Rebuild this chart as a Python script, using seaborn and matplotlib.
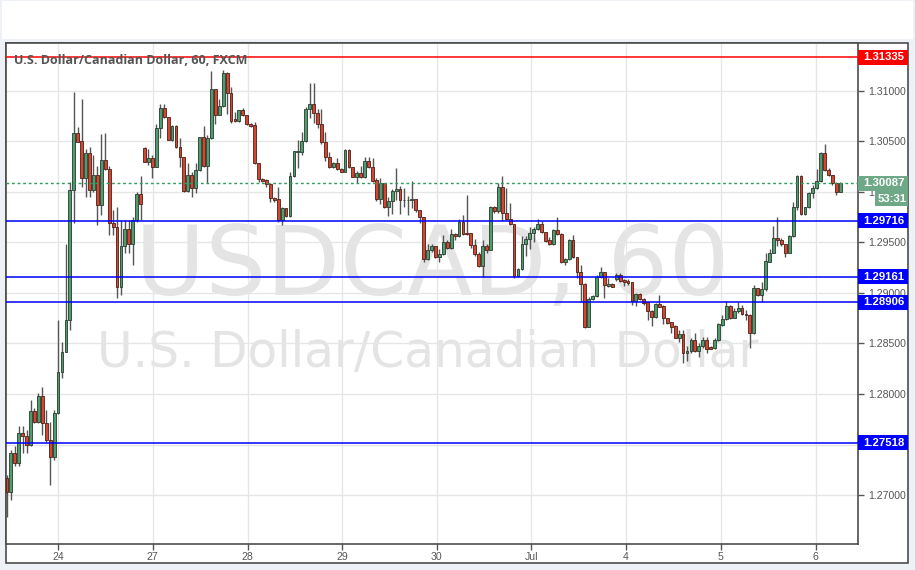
import numpy as np
import pandas as pd
import seaborn as sns
import matplotlib.pyplot as plt
import matplotlib.transforms as mtransforms
from matplotlib.patches import Rectangle

# hourly USD/CAD candles (FXCM, 60 min)
opens = [
    1.2717, 1.2703, 1.2742, 1.2732, 1.2761, 1.2758, 1.2750, 1.2783, 1.2772, 1.2798, 1.2771, 1.2754, 1.2738, 1.2781, 1.2822, 1.2842, 1.2873, 1.3002, 1.3058, 1.3050, 1.3014, 1.3039, 1.3002, 1.3017, 1.2987, 1.3032,
    1.3023, 1.2969, 1.2965, 1.2906, 1.2947, 1.2963, 1.2949, 1.2972, 1.2998, 1.3044, 1.3030, 1.3034, 1.3025, 1.3063, 1.3083, 1.3074, 1.3051, 1.3065, 1.3045, 1.3035, 1.3001, 1.3017, 1.3004, 1.3022, 1.3054, 1.3026,
    1.3053, 1.3102, 1.3076, 1.3085, 1.3118, 1.3098, 1.3072, 1.3070, 1.3081, 1.3076, 1.3067, 1.3066, 1.3029, 1.3013, 1.3012, 1.3008, 1.2994, 1.2993, 1.2972, 1.2984, 1.2976, 1.3016, 1.3040, 1.3040, 1.3050, 1.3082,
    1.3087, 1.3078, 1.3067, 1.3049, 1.3035, 1.3025, 1.3029, 1.3023, 1.3020, 1.3042, 1.3025, 1.3015, 1.3019, 1.3015, 1.3031, 1.3025, 1.3012, 1.2993, 1.3009, 1.2985, 1.2991, 1.3001, 1.3003, 1.2992, 1.2992, 1.2992,
    1.2993, 1.2982, 1.2975, 1.2934, 1.2943, 1.2947, 1.2936, 1.2939, 1.2950, 1.2945, 1.2958, 1.2956, 1.2970, 1.2959, 1.2959, 1.2948, 1.2939, 1.2927, 1.2947, 1.2943, 1.2985, 1.2981, 1.3005, 1.2979, 1.2973, 1.2968,
    1.2917, 1.2924, 1.2949, 1.2953, 1.2959, 1.2963, 1.2968, 1.2960, 1.2952, 1.2949, 1.2962, 1.2958, 1.2931, 1.2934, 1.2952, 1.2936, 1.2921, 1.2909, 1.2866, 1.2894, 1.2897, 1.2916, 1.2921, 1.2907, 1.2909, 1.2914,
    1.2918, 1.2913, 1.2912, 1.2911, 1.2892, 1.2899, 1.2894, 1.2891, 1.2882, 1.2876, 1.2889, 1.2887, 1.2875, 1.2871, 1.2867, 1.2855, 1.2859, 1.2841, 1.2843, 1.2853, 1.2843, 1.2848, 1.2853, 1.2847, 1.2846, 1.2853,
    1.2868, 1.2874, 1.2887, 1.2875, 1.2882, 1.2885, 1.2879, 1.2878, 1.2860, 1.2905, 1.2898, 1.2904, 1.2931, 1.2940, 1.2954, 1.2952, 1.2949, 1.2940, 1.2956, 1.2985, 1.3016, 1.2978, 1.2985, 1.2999, 1.3004, 1.3011,
    1.3039, 1.3022, 1.3017, 1.3009, 1.3000,
]
highs = [
    1.2720, 1.2745, 1.2749, 1.2768, 1.2768, 1.2764, 1.2794, 1.2786, 1.2801, 1.2807, 1.2784, 1.2772, 1.2784, 1.2873, 1.2851, 1.2949, 1.3010, 1.3099, 1.3064, 1.3092, 1.3043, 1.3045, 1.3037, 1.3026, 1.3057, 1.3058,
    1.3026, 1.2982, 1.2985, 1.2972, 1.2972, 1.2972, 1.2975, 1.3000, 1.3016, 1.3045, 1.3043, 1.3037, 1.3067, 1.3087, 1.3087, 1.3074, 1.3066, 1.3066, 1.3053, 1.3035, 1.3029, 1.3020, 1.3029, 1.3054, 1.3065, 1.3056,
    1.3120, 1.3102, 1.3092, 1.3121, 1.3119, 1.3104, 1.3079, 1.3081, 1.3083, 1.3076, 1.3068, 1.3069, 1.3029, 1.3014, 1.3013, 1.3009, 1.2995, 1.3005, 1.2985, 1.2984, 1.3020, 1.3041, 1.3051, 1.3059, 1.3084, 1.3108,
    1.3108, 1.3082, 1.3082, 1.3059, 1.3040, 1.3030, 1.3034, 1.3024, 1.3043, 1.3043, 1.3025, 1.3021, 1.3026, 1.3035, 1.3035, 1.3034, 1.3014, 1.3014, 1.3009, 1.2995, 1.3003, 1.3024, 1.3006, 1.3004, 1.2996, 1.3011,
    1.2993, 1.2982, 1.2975, 1.2949, 1.2949, 1.2947, 1.2944, 1.2957, 1.2952, 1.2963, 1.2959, 1.2973, 1.2977, 1.2997, 1.2959, 1.2953, 1.2941, 1.2952, 1.2949, 1.2986, 1.2986, 1.3009, 1.3016, 1.3004, 1.2989, 1.2968,
    1.2925, 1.2956, 1.2956, 1.2965, 1.2965, 1.2973, 1.2971, 1.2960, 1.2955, 1.2963, 1.2975, 1.2959, 1.2935, 1.2953, 1.2957, 1.2936, 1.2928, 1.2910, 1.2896, 1.2898, 1.2918, 1.2926, 1.2921, 1.2915, 1.2910, 1.2920,
    1.2920, 1.2914, 1.2914, 1.2911, 1.2900, 1.2900, 1.2895, 1.2891, 1.2883, 1.2890, 1.2898, 1.2888, 1.2875, 1.2871, 1.2868, 1.2863, 1.2863, 1.2848, 1.2855, 1.2860, 1.2850, 1.2856, 1.2856, 1.2848, 1.2855, 1.2870,
    1.2878, 1.2892, 1.2888, 1.2885, 1.2891, 1.2888, 1.2883, 1.2879, 1.2908, 1.2905, 1.2911, 1.2940, 1.2944, 1.2966, 1.2975, 1.2954, 1.2949, 1.2957, 1.2990, 1.3017, 1.3017, 1.2985, 1.3000, 1.3007, 1.3023, 1.3040,
    1.3048, 1.3024, 1.3017, 1.3010, 1.3010,
]
lows = [
    1.2678, 1.2695, 1.2729, 1.2729, 1.2742, 1.2742, 1.2749, 1.2771, 1.2771, 1.2759, 1.2752, 1.2710, 1.2735, 1.2780, 1.2816, 1.2842, 1.2863, 1.2969, 1.3049, 1.3005, 1.2995, 1.2995, 1.3000, 1.2967, 1.2977, 1.3022,
    1.2957, 1.2957, 1.2895, 1.2898, 1.2940, 1.2940, 1.2928, 1.2970, 1.2972, 1.3030, 1.3027, 1.3014, 1.3025, 1.3053, 1.3073, 1.3051, 1.3050, 1.3044, 1.3025, 1.3000, 1.3000, 1.2995, 1.2999, 1.3021, 1.3025, 1.3009,
    1.3052, 1.3067, 1.3076, 1.3084, 1.3077, 1.3068, 1.3069, 1.3069, 1.3075, 1.3066, 1.3064, 1.3028, 1.3010, 1.3010, 1.3005, 1.2990, 1.2990, 1.2970, 1.2967, 1.2975, 1.2975, 1.3015, 1.3024, 1.3037, 1.3049, 1.3073,
    1.3068, 1.3063, 1.3048, 1.3031, 1.3024, 1.3024, 1.3022, 1.3020, 1.3020, 1.3024, 1.3015, 1.3009, 1.3014, 1.3014, 1.3024, 1.3010, 1.2991, 1.2988, 1.2984, 1.2976, 1.2978, 1.2992, 1.2978, 1.2985, 1.2977, 1.2984,
    1.2980, 1.2969, 1.2931, 1.2933, 1.2941, 1.2935, 1.2931, 1.2938, 1.2944, 1.2944, 1.2952, 1.2955, 1.2957, 1.2957, 1.2945, 1.2937, 1.2926, 1.2916, 1.2940, 1.2943, 1.2979, 1.2979, 1.2971, 1.2972, 1.2967, 1.2915,
    1.2916, 1.2923, 1.2937, 1.2944, 1.2950, 1.2962, 1.2959, 1.2950, 1.2948, 1.2948, 1.2957, 1.2930, 1.2928, 1.2933, 1.2935, 1.2915, 1.2891, 1.2865, 1.2866, 1.2893, 1.2896, 1.2915, 1.2895, 1.2906, 1.2906, 1.2912,
    1.2911, 1.2907, 1.2908, 1.2888, 1.2887, 1.2893, 1.2888, 1.2873, 1.2867, 1.2875, 1.2886, 1.2869, 1.2869, 1.2860, 1.2855, 1.2851, 1.2831, 1.2833, 1.2841, 1.2842, 1.2837, 1.2846, 1.2841, 1.2845, 1.2845, 1.2852,
    1.2867, 1.2873, 1.2874, 1.2875, 1.2880, 1.2878, 1.2873, 1.2846, 1.2859, 1.2897, 1.2891, 1.2902, 1.2931, 1.2940, 1.2947, 1.2947, 1.2936, 1.2940, 1.2955, 1.2982, 1.2977, 1.2977, 1.2984, 1.2994, 1.3003, 1.3010,
    1.3021, 1.3016, 1.3007, 1.2997, 1.3000,
]
closes = [
    1.2703, 1.2742, 1.2732, 1.2761, 1.2758, 1.2750, 1.2783, 1.2772, 1.2798, 1.2771, 1.2754, 1.2738, 1.2781, 1.2822, 1.2842, 1.2873, 1.3002, 1.3058, 1.3049, 1.3014, 1.3039, 1.3002, 1.3017, 1.2987, 1.3032, 1.3023,
    1.2969, 1.2965, 1.2906, 1.2947, 1.2963, 1.2949, 1.2972, 1.2998, 1.2988, 1.3030, 1.3034, 1.3025, 1.3063, 1.3083, 1.3074, 1.3051, 1.3065, 1.3045, 1.3035, 1.3001, 1.3017, 1.3004, 1.3022, 1.3054, 1.3026, 1.3053,
    1.3102, 1.3076, 1.3085, 1.3118, 1.3098, 1.3070, 1.3070, 1.3081, 1.3076, 1.3067, 1.3065, 1.3029, 1.3013, 1.3011, 1.3008, 1.2994, 1.2992, 1.2972, 1.2984, 1.2976, 1.3016, 1.3041, 1.3041, 1.3050, 1.3082, 1.3087,
    1.3078, 1.3067, 1.3049, 1.3035, 1.3025, 1.3029, 1.3023, 1.3020, 1.3042, 1.3025, 1.3015, 1.3019, 1.3015, 1.3031, 1.3025, 1.3011, 1.2993, 1.3009, 1.2985, 1.2991, 1.3001, 1.3003, 1.2992, 1.2992, 1.2992, 1.2993,
    1.2982, 1.2975, 1.2934, 1.2943, 1.2947, 1.2936, 1.2939, 1.2950, 1.2945, 1.2958, 1.2956, 1.2970, 1.2958, 1.2958, 1.2948, 1.2939, 1.2927, 1.2947, 1.2943, 1.2985, 1.2981, 1.3005, 1.2979, 1.2973, 1.2968, 1.2917,
    1.2924, 1.2949, 1.2953, 1.2959, 1.2963, 1.2968, 1.2960, 1.2951, 1.2949, 1.2962, 1.2958, 1.2931, 1.2934, 1.2952, 1.2936, 1.2921, 1.2909, 1.2866, 1.2894, 1.2897, 1.2916, 1.2921, 1.2908, 1.2909, 1.2906, 1.2918,
    1.2912, 1.2911, 1.2910, 1.2892, 1.2899, 1.2894, 1.2890, 1.2882, 1.2876, 1.2889, 1.2886, 1.2875, 1.2870, 1.2866, 1.2855, 1.2859, 1.2841, 1.2843, 1.2853, 1.2843, 1.2848, 1.2853, 1.2845, 1.2845, 1.2853, 1.2869,
    1.2874, 1.2887, 1.2875, 1.2882, 1.2885, 1.2879, 1.2878, 1.2860, 1.2905, 1.2898, 1.2904, 1.2932, 1.2940, 1.2954, 1.2952, 1.2949, 1.2940, 1.2956, 1.2985, 1.3016, 1.2978, 1.2985, 1.2999, 1.3004, 1.3011, 1.3039,
    1.3022, 1.3017, 1.3009, 1.3000, 1.3009,
]

day_ticks = [13.0, 37.1, 61.2, 85.2, 109.3, 133.4, 157.5, 181.6, 205.7]
day_labels = ["24", "27", "28", "29", "30", "Jul", "4", "5", "6"]
price_ticks = [1.270, 1.275, 1.280, 1.285, 1.290, 1.295, 1.300, 1.305, 1.310]
blue_levels = [1.29716, 1.29161, 1.28906, 1.27518]
red_level = 1.31335
last_price = 1.30087
countdown = "53:31"

sns.set_theme(style="white")
plt.rcParams["font.family"] = ["Liberation Sans", "DejaVu Sans"]

df = pd.DataFrame({"open": opens, "high": highs, "low": lows, "close": closes})
df["t"] = np.arange(len(df))
df["up"] = df["close"] >= df["open"]

W, H = 915, 570
fig = plt.figure(figsize=(W / 100, H / 100), dpi=100, facecolor="#eef2f6")


def fx(px):
    return px / W


def fy(py):
    return 1 - py / H


# white strip at top and the chart panel
fig.patches.append(Rectangle((fx(2), fy(39)), 911 / W, 38 / H, transform=fig.transFigure,
                             fc="white", ec="none", zorder=-2))
fig.patches.append(Rectangle((fx(6), fy(563)), 902 / W, 520 / H, transform=fig.transFigure,
                             fc="white", ec="#4d4d4d", lw=1.2, zorder=-1))

ax = fig.add_axes([fx(6), fy(544), 852 / W, 501 / H])
ax.set_facecolor("white")
ax.set_xlim(-0.25, 216.5)
ax.set_ylim(1.26515, 1.31475)

# watermark
ax.text(0.5, 0.497, "USDCAD, 60", transform=ax.transAxes, ha="center", va="baseline",
        fontsize=69, color="#e4e4e4", family="DejaVu Sans", zorder=0)
ax.text(0.495, 0.353, "U.S. Dollar/Canadian Dollar", transform=ax.transAxes, ha="center",
        va="baseline", fontsize=35, color="#e4e4e4", family="DejaVu Sans", zorder=0)

# candles
ax.vlines(df["t"], df["low"], df["high"], color="#555555", lw=1, zorder=2)
body = (df["close"] - df["open"]).abs().clip(lower=0.00004)
bottom = df[["open", "close"]].min(axis=1)
up = df["up"]
ax.bar(df["t"][up], body[up], bottom=bottom[up], width=0.72, color="#4f9c6c",
       edgecolor="#263b2e", linewidth=0.6, zorder=3)
ax.bar(df["t"][~up], body[~up], bottom=bottom[~up], width=0.72, color="#d5452f",
       edgecolor="#4a2018", linewidth=0.6, zorder=3)

# levels
for lv in blue_levels:
    ax.axhline(lv, color="#0000ff", lw=1.1, zorder=4)
ax.axhline(red_level, color="#ff0000", lw=1.1, zorder=4)
ax.axhline(last_price, color="#2f9a5e", lw=1, ls=(0, (2, 2)), zorder=4)

ax.text(0.0094, 0.966, "U.S. Dollar/Canadian Dollar, 60, FXCM", transform=ax.transAxes,
        ha="left", va="center", fontsize=9, fontweight="bold", color="#555555",
        family=["Open Sans", "DejaVu Sans"], zorder=5)

# axes, ticks, grid
ax.set_xticks(day_ticks)
ax.set_xticklabels(day_labels)
ax.set_yticks(price_ticks)
# 1.27500 sits fully under the 1.27518 tag in the reference
ax.set_yticklabels(["" if abs(p - 1.275) < 1e-9 else f"{p:.5f}" for p in price_ticks])
ax.tick_params(axis="y", left=False, labelleft=False, right=True, labelright=True,
               direction="out", length=4, width=1, color="#555555", labelcolor="#555555",
               labelsize=7.6, pad=3)
ax.tick_params(axis="x", bottom=True, direction="out", length=4, width=1, color="#555555",
               labelcolor="#555555", labelsize=7.6, pad=2)
for lab in ax.get_xticklabels():
    lab.set_family(["Liberation Sans Narrow", "Liberation Sans"])
ax.grid(True, color="#e6e6e6", lw=1)
ax.set_axisbelow(True)
for s in ax.spines.values():
    s.set_color("#4d4d4d")
    s.set_linewidth(1.2)

# price tags on the right scale
trans = mtransforms.blended_transform_factory(fig.transFigure, ax.transData)
unit = (ax.get_ylim()[1] - ax.get_ylim()[0]) / 501
box_h = 15 * unit


def price_tag(price, text, color, x0=858, x1=908):
    ax.add_patch(Rectangle((fx(x0), price - box_h / 2), (x1 - x0) / W, box_h, transform=trans,
                           fc=color, ec="none", clip_on=False, zorder=6))
    ax.text(fx((x0 + x1) / 2 + 1), price, text, transform=trans, color="white",
            fontweight="bold", fontsize=8.2, ha="center", va="center", clip_on=False, zorder=7)


price_tag(red_level, f"{red_level:.5f}", "#ff0000")
for lv in blue_levels:
    price_tag(lv, f"{lv:.5f}", "#0000ff")
price_tag(last_price, f"{last_price:.5f}", "#6fa887")
price_tag(last_price - 15.5 * unit, countdown, "#6fa887", x0=875)

fig.savefig("out.png", dpi=100, facecolor=fig.get_facecolor())
